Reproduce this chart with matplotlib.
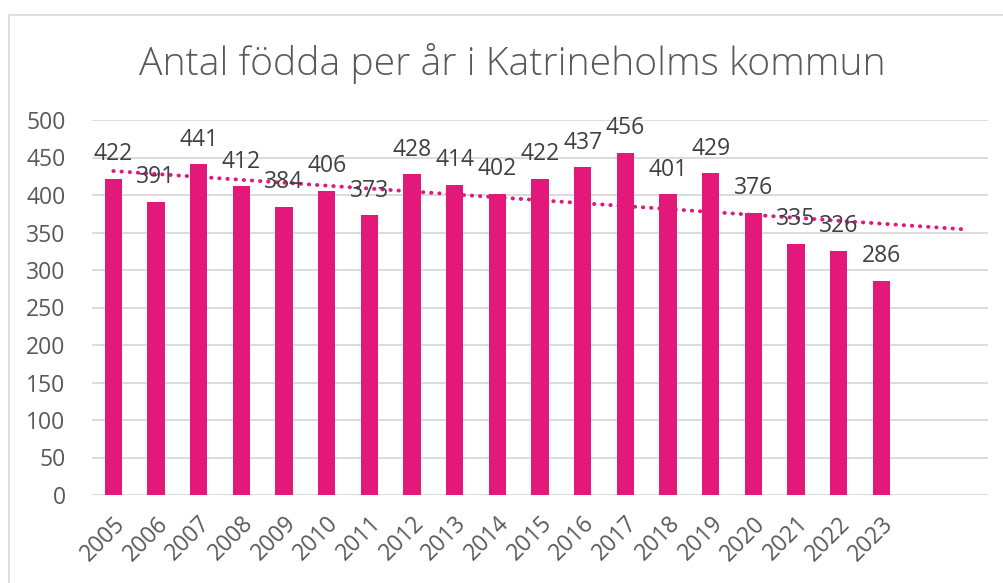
import numpy as np
import matplotlib.pyplot as plt
from matplotlib.patches import Rectangle

plt.rcParams['font.family'] = ['Open Sans', 'DejaVu Sans']

# data
years = ['2005', '2006', '2007', '2008', '2009', '2010', '2011', '2012', '2013', '2014',
         '2015', '2016', '2017', '2018', '2019', '2020', '2021', '2022', '2023', '', '']
births = [422, 391, 441, 412, 384, 406, 373, 428, 414, 402,
          422, 437, 456, 401, 429, 376, 335, 326, 286]
yticks = [0, 50, 100, 150, 200, 250, 300, 350, 400, 450, 500]

bar_col = '#E2187A'
txt_col = '#595959'

fig = plt.figure(figsize=(10.04, 5.83), dpi=100)
ax = fig.add_axes([92/1004, 88/583, 896/1004, 375/583])

# chart border
fig.patches.append(Rectangle((9/1004, -0.1), 1.2, (583-15)/583 + 0.1,
                             transform=fig.transFigure, fill=False,
                             edgecolor='#d9d9d9', linewidth=1.2))

x = np.arange(len(births))
ax.bar(x, births, width=0.4, color=bar_col, zorder=3)

for xi, v in zip(x, births):
    ax.annotate(str(v), (xi, v), xytext=(0, 9), textcoords='offset points',
                ha='center', va='bottom', fontsize=16.5, color='#404040', zorder=5)

# linear trendline over all categories
k, m = np.polyfit(x, births, 1)
xt = np.arange(len(years))
ax.plot(xt, k * xt + m, linestyle=(0, (0.1, 2.0)), color=bar_col, linewidth=2.8,
        dash_capstyle='round', zorder=4)

ax.set_xlim(-0.5, len(years) - 0.5)
ax.set_ylim(0, 500)
ax.set_yticks(yticks)
ax.set_xticks(xt)
ax.set_xticklabels(years, rotation=45, ha='right', rotation_mode='anchor')
ax.tick_params(axis='both', length=0, labelsize=16.5, labelcolor=txt_col)
ax.tick_params(axis='y', pad=19)
ax.tick_params(axis='x', pad=12)
ax.grid(axis='y', color='#d9d9d9', linewidth=1.3, zorder=0)
for s in ax.spines.values():
    s.set_visible(False)

fig.text(512/1004, 1 - 64/583, 'Antal födda per år i Katrineholms kommun',
         ha='center', va='center', fontsize=28.2, color=txt_col, fontweight='light')

fig.savefig('out.png', dpi=100)
